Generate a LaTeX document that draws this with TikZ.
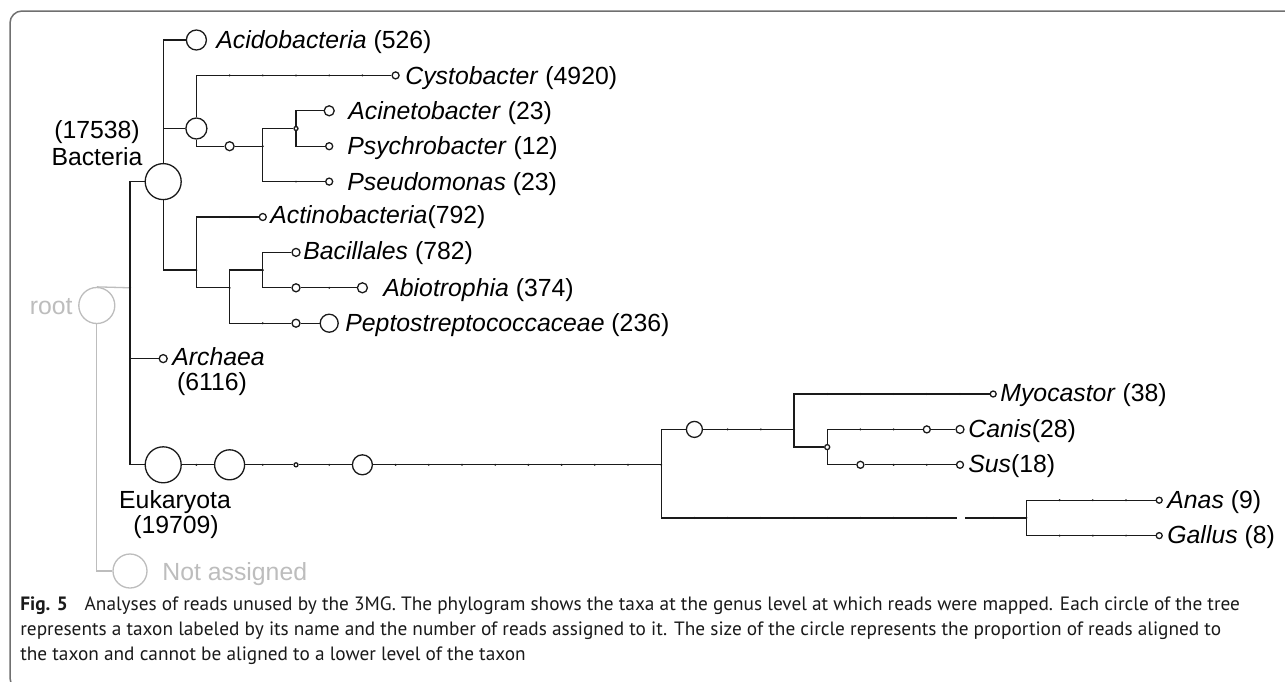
\documentclass[tikz,border=0pt]{standalone}
\usepackage{fontspec}
\setmainfont{Liberation Sans}
\newfontfamily\capfont{PT Sans}

\definecolor{ink}{HTML}{1A1A1A}
\definecolor{rootgray}{HTML}{BDBDBD}
\definecolor{framegray}{HTML}{707070}

\tikzset{
  taxon/.style={circle, draw=ink, line width=0.65pt, inner sep=0pt, fill=white},
  branch/.style={draw=ink, line width=0.65pt},
  taxname/.style={anchor=west, inner sep=0pt, text height=8.7pt, text depth=0pt,
    font=\fontsize{12.4}{14}\selectfont},
  rankname/.style={inner sep=0pt, text height=8.7pt, text depth=0pt,
    font=\fontsize{12.4}{14}\selectfont},
}

\begin{document}
\begin{tikzpicture}[x=0.5pt, y=-0.5pt]

\clip (0,0) rectangle (1285,681);
\fill[white] (0,0) rectangle (1285,681);

% frame
\draw[framegray, line width=0.75pt, rounded corners=6pt] (1300,11) -- (10,11) -- (10,690) -- (40,690);

% nodes of the tree
\node[taxon, draw=rootgray, minimum size=18pt] (root) at (96.8,305.5) {};
\node[taxon, draw=rootgray, minimum size=17pt] (unass) at (130,571) {};
\coordinate (cell) at (130,287.8);
\node[taxon, minimum size=18pt] (bact) at (163.2,181.6) {};
\node[taxon, minimum size=4pt] (arch) at (163.2,358.6) {};
\node[taxon, minimum size=18pt] (euk) at (163.2,464.8) {};

\node[taxon, minimum size=10pt] (acido) at (196.4,40) {};
\node[taxon, minimum size=10.5pt] (proteo) at (196.4,128.5) {};
\coordinate (terra) at (196.4,270);
\node[taxon, minimum size=3.5pt] (cysto) at (395.6,75.4) {};
\node[taxon, minimum size=4.5pt] (gamma) at (229.6,146.2) {};
\coordinate (pseudales) at (262.8,146.2);
\node[taxon, minimum size=2pt] (morax) at (296,128.5) {};
\node[taxon, minimum size=5pt] (acin) at (329.2,110.8) {};
\node[taxon, minimum size=3.5pt] (psych) at (329.2,146.2) {};
\node[taxon, minimum size=3.5pt] (pseud) at (329.2,181.6) {};
\node[taxon, minimum size=3.5pt] (actino) at (262.8,217) {};
\coordinate (firm) at (229.6,287.8);
\coordinate (bacilli) at (262.8,270.1);
\node[taxon, minimum size=4pt] (bacill) at (296,252.4) {};
\node[taxon, minimum size=4pt] (lacto) at (296,287.8) {};
\node[taxon, minimum size=5pt] (abio) at (362.4,287.8) {};
\node[taxon, minimum size=4pt] (clost) at (296,323.2) {};
\node[taxon, minimum size=9pt] (pepto) at (329.2,323.2) {};

\node[taxon, minimum size=15pt] (euk2) at (229.6,464.8) {};
\node[taxon, minimum size=2pt] (euk3) at (296,464.8) {};
\node[taxon, minimum size=10pt] (euk4) at (362.4,464.8) {};
\coordinate (amni) at (661.2,464.8);
\node[taxon, minimum size=8pt] (mammal) at (694.4,429.4) {};
\coordinate (mamsplit) at (794,429.4);
\node[taxon, minimum size=3pt] (myo) at (993.2,394) {};
\node[taxon, minimum size=2.5pt] (laur) at (827.2,447.1) {};
\node[taxon, minimum size=3.5pt] (carniv) at (926.8,429.4) {};
\node[taxon, minimum size=4pt] (canis) at (960,429.4) {};
\node[taxon, minimum size=3.5pt] (suina) at (860.4,464.8) {};
\node[taxon, minimum size=3.5pt] (sus) at (960,464.8) {};
\coordinate (gapA) at (957,517.9);
\coordinate (gapB) at (965,517.9);
\coordinate (aves) at (1026.4,517.9);
\node[taxon, minimum size=3pt] (anas) at (1159.2,500.2) {};
\node[taxon, minimum size=3pt] (gallus) at (1159.2,535.6) {};

% branches
\draw[branch, draw=rootgray] (root.north) -- (cell);
\draw[branch, draw=rootgray] (root.south) |- (unass);
\draw[branch] (cell) |- (bact);
\draw[branch] (cell) |- (arch);
\draw[branch] (cell) |- (euk);
\draw[branch] (bact) |- (acido);
\draw[branch] (bact) |- (proteo);
\draw[branch] (bact) |- (terra);
\draw[branch] (proteo) |- (cysto);
\draw[branch] (proteo) |- (gamma);
\draw[branch] (gamma) -- (pseudales);
\draw[branch] (pseudales) |- (morax);
\draw[branch] (pseudales) |- (pseud);
\draw[branch] (morax) |- (acin);
\draw[branch] (morax) |- (psych);
\draw[branch] (terra) |- (actino);
\draw[branch] (terra) |- (firm);
\draw[branch] (firm) |- (bacilli);
\draw[branch] (firm) |- (clost);
\draw[branch] (bacilli) |- (bacill);
\draw[branch] (bacilli) |- (lacto);
\draw[branch] (lacto) -- (abio);
\draw[branch] (clost) -- (pepto);
\draw[branch] (euk) -- (euk2);
\draw[branch] (euk2) -- (euk3);
\draw[branch] (euk3) -- (euk4);
\draw[branch] (euk4) -- (amni);
\draw[branch] (amni) |- (mammal);
\draw[branch] (amni) |- (gapA);
\draw[branch] (gapB) -- (aves);
\draw[branch] (mammal) -- (mamsplit);
\draw[branch] (mamsplit) |- (myo);
\draw[branch] (mamsplit) |- (laur);
\draw[branch] (laur) |- (carniv);
\draw[branch] (carniv) -- (canis);
\draw[branch] (laur) |- (suina);
\draw[branch] (suina) -- (sus);
\draw[branch] (aves) |- (anas);
\draw[branch] (aves) |- (gallus);

% little level marks on the branches
\foreach \x in {229.6,262.8,296,329.2,362.4} \fill[ink] (\x,75.4) circle (0.55pt);
\foreach \x/\y in {296/181.6,229.6/217,196.4/270,229.6/287.8,262.8/270.1,262.8/146.2,329.2/287.8,262.8/323.2,130/287.8}
  \fill[ink] (\x,\y) circle (0.55pt);
\foreach \x in {196.4,262.8,329.2,395.6,428.8,462,495.2,528.4,561.6,594.8,628,661.2} \fill[ink] (\x,464.8) circle (0.55pt);
\foreach \x in {727.6,760.8,794,860.4,893.6} \fill[ink] (\x,429.4) circle (0.55pt);
\foreach \x in {827.2,860.4,893.6,926.8,960} \fill[ink] (\x,394) circle (0.55pt);
\foreach \x in {893.6,926.8} \fill[ink] (\x,464.8) circle (0.55pt);
\foreach \x in {694.4,727.6,760.8,794,827.2,860.4,893.6,926.8,993.2,1026.4} \fill[ink] (\x,517.9) circle (0.55pt);
\foreach \x in {1059.6,1092.8,1126} {
  \fill[ink] (\x,500.2) circle (0.55pt);
  \fill[ink] (\x,535.6) circle (0.55pt);
}

% names and counts
\node[rankname, anchor=east, text=rootgray] (root-t) at (73,305.5) {root};
\node[taxname, text=rootgray] (unass-t) at (162,572) {Not assigned};
\node[rankname] (bact-n) at (97,130) {(17538)};
\node[rankname] (bact-t) at (97,157) {Bacteria};
\node[rankname] (euk-t) at (175,500) {Eukaryota};
\node[rankname] (euk-n) at (176,525) {(19709)};
\node[taxname] (arch-t) at (172,357) {\textit{Archaea}};
\node[rankname] (arch-n) at (212,382) {(6116)};
\node[taxname] (acido-t) at (216,40) {\textit{Acidobacteria} (526)};
\node[taxname] (cysto-t) at (405,75.4) {\textit{Cystobacter} (4920)};
\node[taxname] (acin-t) at (348,110.8) {\textit{Acinetobacter} (23)};
\node[taxname] (psych-t) at (347,146.2) {\textit{Psychrobacter} (12)};
\node[taxname] (pseud-t) at (347,181.6) {\textit{Pseudomonas} (23)};
\node[taxname] (actino-t) at (270,215) {\textit{Actinobacteria}(792)};
\node[taxname] (bacill-t) at (303,251) {\textit{Bacillales} (782)};
\node[taxname] (abio-t) at (383,287.8) {\textit{Abiotrophia} (374)};
\node[taxname] (pepto-t) at (345,323.2) {\textit{Peptostreptococcaceae} (236)};
\node[taxname] (myo-t) at (1000,393) {\textit{Myocastor} (38)};
\node[taxname] (canis-t) at (968,428.5) {\textit{Canis}(28)};
\node[taxname] (sus-t) at (968,464) {\textit{Sus}(18)};
\node[taxname] (anas-t) at (1167,499.5) {\textit{Anas} (9)};
\node[taxname] (gallus-t) at (1167,535) {\textit{Gallus} (8)};

% caption
\node[anchor=north west, inner sep=0pt, align=left, text=ink,
  font=\capfont\fontsize{9.65}{12.5}\selectfont] (caption) at (20,596)
  {\textbf{Fig. 5}\hspace{0.6em} Analyses of reads unused by the 3MG. The phylogram shows the taxa at the genus level at which reads were mapped. Each circle of the tree\\
   represents a taxon labeled by its name and the number of reads assigned to it. The size of the circle represents the proportion of reads aligned to\\
   the taxon and cannot be aligned to a lower level of the taxon};

\end{tikzpicture}
\end{document}
